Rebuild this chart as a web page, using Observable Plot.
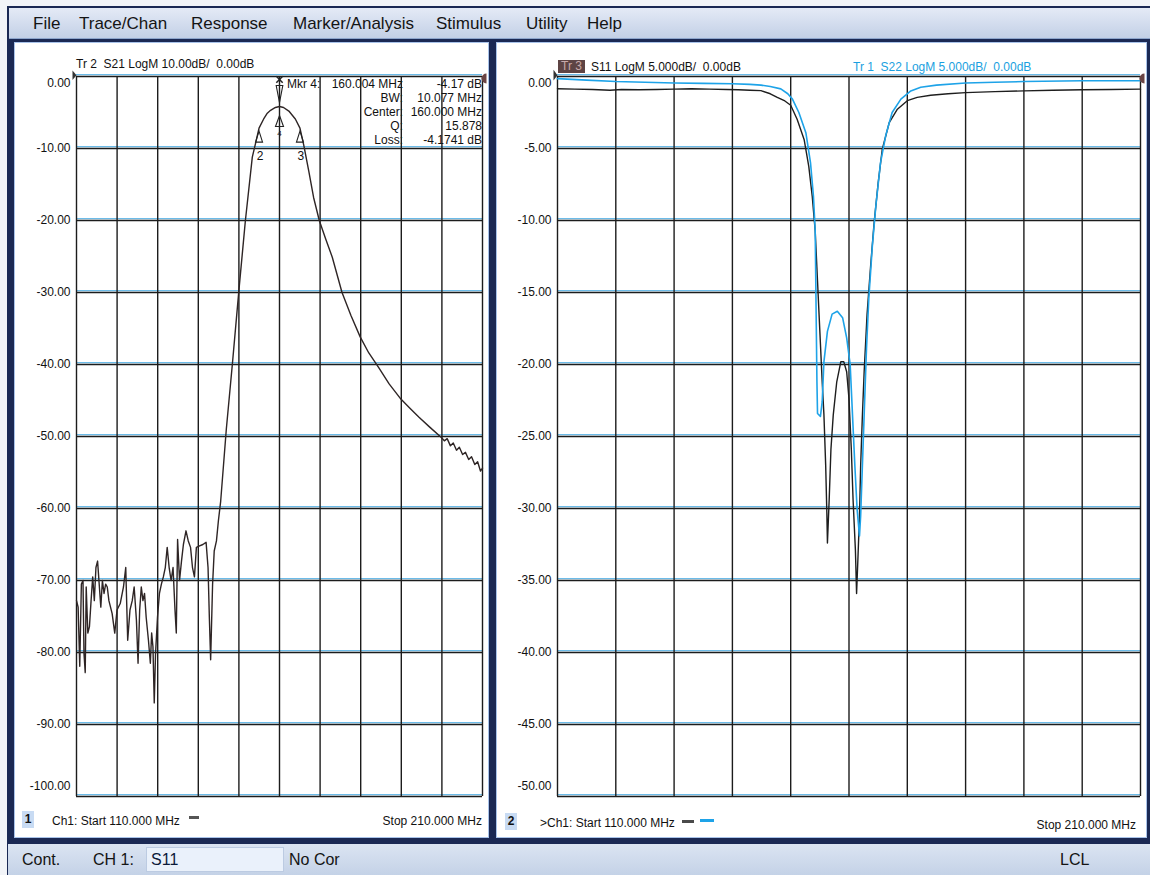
<!DOCTYPE html>
<html>
<head>
<meta charset="utf-8">
<script src="https://cdn.jsdelivr.net/npm/d3@7"></script>
<script src="https://cdn.jsdelivr.net/npm/@observablehq/plot@0.6"></script>
<style>
html,body{margin:0;padding:0;}
body{width:1150px;height:875px;position:relative;overflow:hidden;background:#f2f4f8;font-family:"Liberation Sans",Arial,sans-serif;color:#111;}
.abs{position:absolute;}
.t{position:absolute;white-space:pre;font-size:12px;line-height:14px;}
.m{position:absolute;white-space:pre;font-size:17px;line-height:18px;top:15px;color:#141414;}
.s{position:absolute;white-space:pre;font-size:16px;line-height:18px;top:851px;color:#141414;}
</style>
</head>
<body>
<div class="abs" style="left:7px;top:6px;width:1143px;height:869px;background:#1b2954;"></div>
<div class="abs" style="left:9px;top:8px;width:1141px;height:30px;background:linear-gradient(#e4eaf6,#c3d0e6);border-bottom:1px solid #8ea6cc;"></div>
<div class="abs" style="left:14px;top:42px;width:473px;height:794px;background:#fff;border:1px solid #a9c3ea;"></div>
<div class="abs" style="left:496px;top:42px;width:649px;height:794px;background:#fff;border:1px solid #a9c3ea;"></div>
<div class="abs" style="left:8px;top:844px;width:1142px;height:31px;background:linear-gradient(#dbe4f2,#c4d2e7);"></div>
<div class="abs" style="left:146px;top:847px;width:136px;height:23px;background:#eaf1fb;border:1px solid #bccbe2;"></div>
<div id="txt"></div>
<div id="plots"></div>
<script>
// ---------- data ----------
const menuItems = ["File", "Trace/Chan", "Response", "Marker/Analysis", "Stimulus", "Utility", "Help"];
const freqTicks = [110, 120, 130, 140, 150, 160, 170, 180, 190, 200, 210];
const s21Ticks = [0, -10, -20, -30, -40, -50, -60, -70, -80, -90, -100];
const reflTicks = [0, -5, -10, -15, -20, -25, -30, -35, -40, -45, -50];

// Tr 2 : S21 LogM (MHz, dB)
const s21 = [
  [110.00,-72.8],[110.40,-73.7],[110.80,-81.9],[111.20,-70.5],[111.60,-70.0],[111.84,-80.1],[112.15,-82.8],[112.39,-70.9],
  [112.79,-77.3],[113.19,-76.4],[113.59,-72.8],[113.99,-69.5],[114.39,-72.8],[114.79,-68.2],[115.19,-67.3],[115.59,-70.5],
  [115.99,-73.7],[116.38,-70.0],[116.78,-71.8],[117.18,-70.5],[117.58,-70.9],[117.98,-72.8],[118.78,-74.6],[119.42,-77.3],
  [119.98,-74.1],[120.77,-73.2],[121.57,-70.9],[122.13,-68.2],[122.61,-78.3],[123.17,-74.1],[123.73,-72.8],[124.20,-70.9],
  [124.76,-75.5],[125.16,-81.5],[125.56,-74.1],[125.96,-70.9],[126.36,-72.8],[126.76,-71.8],[127.16,-75.1],[127.72,-78.3],
  [128.19,-81.5],[128.51,-77.3],[128.83,-79.2],[129.15,-87.0],[129.47,-80.1],[129.95,-75.1],[130.43,-71.8],[130.91,-70.5],
  [131.39,-69.5],[131.87,-68.2],[132.34,-65.4],[132.82,-68.2],[133.30,-70.0],[133.78,-68.2],[134.26,-74.1],[134.58,-77.3],
  [134.90,-64.3],[135.38,-70.0],[135.86,-67.3],[136.33,-65.0],[136.97,-63.1],[137.53,-64.5],[138.09,-65.4],[138.57,-68.2],
  [139.05,-69.5],[139.53,-65.4],[140.32,-65.2],[141.12,-65.0],[141.92,-64.7],[142.40,-68.2],[142.72,-75.1],[143.04,-81.0],
  [143.52,-70.5],[143.92,-65.9],[144.47,-64.5],[144.95,-61.7],[145.51,-59.0],
  [146.9,-49.0],[148.4,-39.9],[150.0,-29.7],[151.6,-20.0],[153.3,-11.2],[154.1,-9.3],[154.96,-7.17],[156.1,-5.9],
  [157.0,-5.1],[157.8,-4.7],[159.0,-4.3],[160.0,-4.17],[161.0,-4.3],[162.3,-4.8],[163.9,-5.9],[165.04,-7.17],
  [166.0,-9.6],[167.2,-13.1],[168.4,-16.8],[169.8,-20.0],[171.4,-22.6],[173.0,-25.1],[175.4,-30.0],[177.6,-33.2],
  [179.9,-36.2],[182.0,-38.4],[184.4,-40.4],[187.0,-42.7],[189.9,-44.8],[192.0,-46.0],[194.3,-47.3],[197.0,-48.7],
  [199.8,-50.1],[200.6,-50.6],[201.3,-50.3],[202.1,-51.3],[202.8,-50.9],[203.6,-51.9],[204.3,-51.5],[205.1,-52.5],
  [205.8,-52.2],[206.6,-53.2],[207.3,-52.8],[208.1,-53.9],[208.8,-53.5],[209.5,-54.8],[210.0,-54.4]
];

// Tr 3 : S11 LogM (MHz, dB)
const s11 = [
  [110,-0.85],[113,-0.88],[116,-0.9],[119,-0.95],[121,-0.9],[124,-0.92],[127,-0.9],[130,-0.88],[133,-0.85],[136,-0.88],
  [139,-0.9],[141,-0.92],[143,-0.95],[144.9,-0.98],[146.5,-1.2],[147.7,-1.45],[149,-1.7],[150.0,-2.0],[151.1,-2.97],
  [152.3,-4.37],[153.1,-6.24],[153.7,-8.34],[154.2,-10.7],[154.6,-14.2],[155.0,-17.7],[155.4,-21.2],[155.7,-23.5],
  [156.0,-27.0],[156.2,-30.3],[156.3,-32.4],[156.6,-29.4],[156.9,-25.9],[157.3,-23.5],[157.9,-21.2],[158.6,-19.8],
  [159.1,-19.8],[159.6,-20.5],[160.0,-22.4],[160.4,-25.9],[160.7,-29.4],[161.1,-32.9],[161.3,-35.9],[161.5,-33.8],
  [161.8,-30.5],[162.0,-27.0],[162.3,-23.5],[162.6,-20.5],[163.1,-16.5],[163.7,-13.2],[164.3,-10.2],[165.0,-7.4],
  [165.7,-5.07],[166.9,-3.2],[168.3,-2.27],[170.0,-1.68],[171.7,-1.45],[174,-1.3],[177,-1.2],[180,-1.12],[185,-1.05],
  [190,-1.0],[195,-0.95],[200,-0.92],[205,-0.9],[210,-0.88]
];

// Tr 1 : S22 LogM (MHz, dB)
const s22 = [
  [110,-0.15],[115,-0.25],[120,-0.35],[125,-0.4],[130,-0.45],[135,-0.48],[140,-0.5],[143,-0.55],[144.9,-0.6],[146.5,-0.7],
  [148.3,-0.86],[149.5,-1.2],[150.3,-1.57],[151.4,-2.5],[152.6,-3.9],[153.4,-6.0],[153.9,-8.3],[154.2,-10.7],[154.3,-14.2],
  [154.4,-17.7],[154.5,-21.2],[154.6,-23.4],[155.1,-23.6],[155.4,-22.6],[155.7,-19.8],[156.3,-17.7],[157.1,-16.5],
  [158.0,-16.3],[158.9,-16.75],[159.6,-18.15],[160.2,-20.0],[160.6,-23.5],[161.0,-27.0],[161.4,-30.1],[161.8,-31.9],
  [162.0,-30.5],[162.3,-27.0],[162.6,-23.5],[163.0,-18.9],[163.4,-15.4],[164.0,-11.8],[164.6,-9.0],[165.4,-6.0],
  [166.3,-4.1],[167.4,-2.5],[168.9,-1.57],[170.6,-1.0],[172.3,-0.75],[175,-0.6],[180,-0.45],[185,-0.4],[190,-0.35],
  [200,-0.3],[210,-0.3]
];

const bwMarkers = [{n: "2", f: 154.96, db: -7.17}, {n: "3", f: 165.04, db: -7.17}];
const peakMarker = [{n: "4", f: 160.0, db: -4.17}];
const readLabels = ["", "BW:", "Center:", "Q:", "Loss:"];
const readValues = ["160.004 MHz", "10.077 MHz", "160.000 MHz", "15.878", "-4.1741 dB"];

// ---------- text layer ----------
const txt = document.getElementById("txt");
function label(x, yc, s, o = {}) {
  const d = document.createElement("div");
  d.className = o.cls || "t";
  d.textContent = s;
  d.style.left = x + "px";
  if (o.cls !== "m" && o.cls !== "s") d.style.top = (yc - 7) + "px";
  if (o.right) d.style.transform = "translateX(-100%)";
  if (o.color) d.style.color = o.color;
  if (o.css) Object.assign(d.style, o.css);
  txt.appendChild(d);
  return d;
}
const menuX = [33, 79, 191, 293, 436, 526, 587];
menuItems.forEach((m, i) => label(menuX[i], 0, m, {cls: "m"}));

label(76, 64, "Tr 2  S21 LogM 10.00dB/  0.00dB");
label(558, 67, "Tr 3", {css: {background: "#5e4444", color: "#c9aaaa", padding: "0 3px", lineHeight: "13px", top: "60px"}});
label(591, 67, "S11 LogM 5.000dB/  0.00dB");
label(853, 67, "Tr 1  S22 LogM 5.000dB/  0.00dB", {color: "#1a9fe0"});

const rowY = [84, 98, 112, 125.5, 139.5];
label(287, rowY[0], "Mkr 4:");
label(482, rowY[0], "-4.17 dB", {right: true});
readValues.forEach((v, i) => {
  if (i === 0) label(403, rowY[0], v, {right: true});
  else {
    label(403, rowY[i], readLabels[i], {right: true});
    label(482, rowY[i], v, {right: true});
  }
});

label(22, 818, "1", {css: {background: "#c8dbf3", width: "12px", textAlign: "center", fontWeight: "bold", lineHeight: "17px"}});
label(52, 821, "Ch1: Start 110.000 MHz");
label(189, 0, "", {css: {top: "816px", width: "10px", height: "3px", background: "#555"}});
label(482, 821, "Stop 210.000 MHz", {right: true});
label(505, 820, "2", {css: {background: "#c8dbf3", width: "12px", textAlign: "center", fontWeight: "bold", lineHeight: "17px"}});
label(540, 823, ">Ch1: Start 110.000 MHz");
label(682, 0, "", {css: {top: "820px", width: "12px", height: "3px", background: "#4a4a4a"}});
label(700, 0, "", {css: {top: "819px", width: "14px", height: "3px", background: "#1ea3e8"}});
label(1136, 825, "Stop 210.000 MHz", {right: true});

label(22, 0, "Cont.", {cls: "s"});
label(93, 0, "CH 1:", {cls: "s"});
label(151, 0, "S11", {cls: "s", color: "#0c1a3a"});
label(289, 0, "No Cor", {cls: "s"});
label(1060, 0, "LCL", {cls: "s"});

// ---------- plots ----------
const fmt = d => d.toFixed(2);
const upTri = {draw(c, size) { const r = Math.sqrt(size / Math.PI);
  c.moveTo(0, 0.6 * r); c.lineTo(0.7 * r, 2.8 * r); c.lineTo(-0.7 * r, 2.8 * r); c.closePath(); }};
const upTriLow = {draw(c, size) { const r = Math.sqrt(size / Math.PI);
  c.moveTo(0, 1.8 * r); c.lineTo(0.8 * r, 4 * r); c.lineTo(-0.8 * r, 4 * r); c.closePath(); }};
const downTri = {draw(c, size) { const r = Math.sqrt(size / Math.PI);
  c.moveTo(-0.66 * r, -4.2 * r); c.lineTo(0.66 * r, -4.2 * r); c.lineTo(0, -0.8 * r); c.closePath(); }};
const rightTri = {draw(c, size) { const r = Math.sqrt(size / Math.PI);
  c.moveTo(-4, -r * 1.5); c.lineTo(0, -r * 0.3); c.lineTo(-4, r * 0.9); c.closePath(); }};
const halfDisc = {draw(c, size) { const r = Math.sqrt(size / Math.PI);
  c.moveTo(0, -r); c.arc(0, 0, r, -Math.PI / 2, Math.PI / 2, true); c.closePath(); }};

const baseStyle = {background: "transparent", fontFamily: "Liberation Sans, Arial, sans-serif", fontSize: "12px", color: "#111", overflow: "visible"};
function gridMarks(yTicks) {
  return [
    Plot.ruleY(yTicks, {stroke: "#6cbbe8", strokeWidth: 1.3, dy: -1.8}),
    Plot.ruleY(yTicks, {stroke: "#1c1c1c", strokeWidth: 1.4}),
    Plot.ruleX(freqTicks, {stroke: "#1c1c1c", strokeWidth: 1.4})
  ];
}
function yAxis(yTicks) {
  const o = {tickSize: 0, tickPadding: 6, tickFormat: fmt, label: null, fill: "#111", fontSize: 12};
  return [
    Plot.axisY(yTicks.slice(1, -1), o),
    Plot.axisY([yTicks[0]], {...o, dy: 7}),
    Plot.axisY([yTicks[yTicks.length - 1]], {...o, dy: -10})
  ];
}
const X = d => d[0], Y = d => d[1];

const leftPlot = Plot.plot({
  width: 475, height: 760,
  marginLeft: 62, marginRight: 7, marginTop: 34, marginBottom: 6,
  x: {domain: [110, 210], axis: null},
  y: {domain: [-100, 0], axis: null},
  style: baseStyle,
  marks: [
    ...gridMarks(s21Ticks),
    Plot.line(s21, {x: X, y: Y, stroke: "#2e2525", strokeWidth: 1.4}),
    Plot.dot(bwMarkers, {x: "f", y: "db", symbol: upTri, r: 5, stroke: "#222", strokeWidth: 1.1}),
    Plot.text(bwMarkers, {x: "f", y: "db", text: "n", dy: 28, dx: 1, fontSize: 12, fill: "#111"}),
    Plot.dot(peakMarker, {x: "f", y: "db", symbol: downTri, r: 5, stroke: "#222", strokeWidth: 1.1}),
    Plot.dot(peakMarker, {x: "f", y: "db", symbol: upTriLow, r: 5, stroke: "#222", strokeWidth: 1.1}),
    Plot.text(peakMarker, {x: "f", y: "db", text: "n", dy: 27, fontSize: 8, fill: "#222"}),
    Plot.dot([[160, 0]], {x: X, y: Y, symbol: "times", r: 3, dy: 3, stroke: "#222"}),
    Plot.dot([[110, 0]], {x: X, y: Y, symbol: rightTri, r: 4, fill: "#333", stroke: "none"}),
    Plot.dot([[210, 0]], {x: X, y: Y, symbol: halfDisc, r: 5, fill: "#6a4444", stroke: "none", dx: 4, dy: 2}),
    ...yAxis(s21Ticks)
  ]
});

const rightPlot = Plot.plot({
  width: 651, height: 760,
  marginLeft: 61, marginRight: 7, marginTop: 34, marginBottom: 6,
  x: {domain: [110, 210], axis: null},
  y: {domain: [-50, 0], axis: null},
  style: baseStyle,
  marks: [
    ...gridMarks(reflTicks),
    Plot.line(s11, {x: X, y: Y, stroke: "#1e1e1e", strokeWidth: 1.4}),
    Plot.line(s22, {x: X, y: Y, stroke: "#1ea3e8", strokeWidth: 1.6}),
    Plot.dot([[110, 0]], {x: X, y: Y, symbol: rightTri, r: 4.5, fill: "#333", stroke: "none"}),
    Plot.dot([[210, 0]], {x: X, y: Y, symbol: halfDisc, r: 5, fill: "#6a4444", stroke: "none", dx: 4, dy: 2}),
    ...yAxis(reflTicks)
  ]
});

const plots = document.getElementById("plots");
function place(svg, x, y, w) {
  const d = document.createElement("div");
  d.className = "abs";
  d.style.left = x + "px"; d.style.top = y + "px"; d.style.width = w + "px";
  d.appendChild(svg);
  plots.appendChild(d);
}
place(leftPlot, 14, 42, 475);
place(rightPlot, 496, 42, 651);
</script>
</body>
</html>
